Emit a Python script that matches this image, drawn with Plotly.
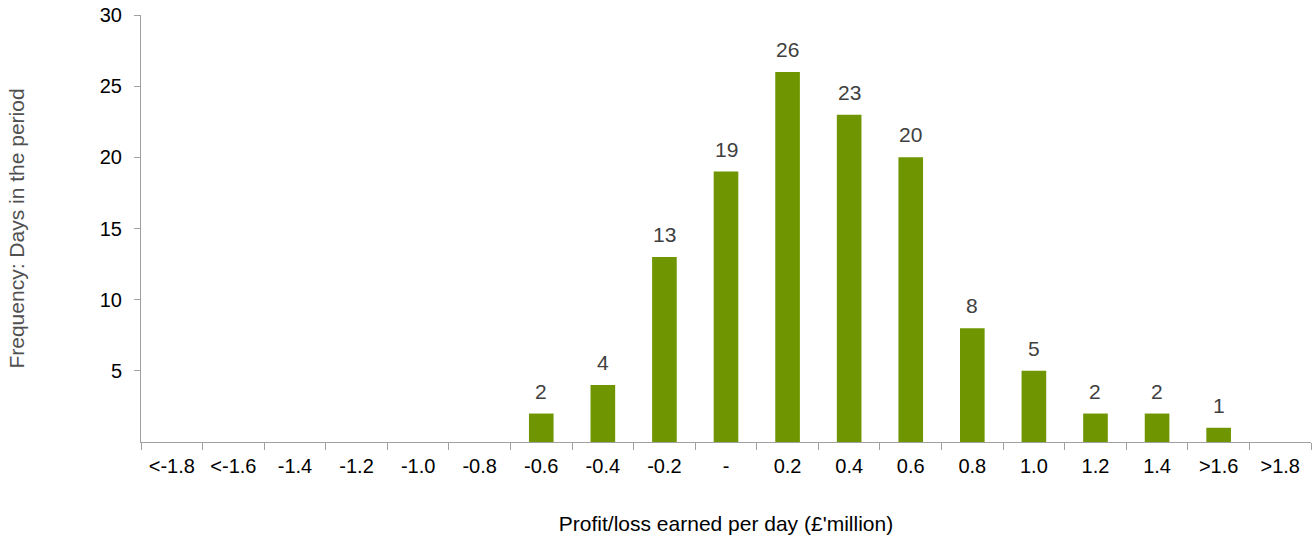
import plotly.graph_objects as go

categories = ["<-1.8", "<-1.6", "-1.4", "-1.2", "-1.0", "-0.8", "-0.6", "-0.4", "-0.2", "-",
              "0.2", "0.4", "0.6", "0.8", "1.0", "1.2", "1.4", ">1.6", ">1.8"]
days = [0, 0, 0, 0, 0, 0, 2, 4, 13, 19, 26, 23, 20, 8, 5, 2, 2, 1, 0]
y_ticks = [5, 10, 15, 20, 25, 30]

fig = go.Figure(go.Bar(
    x=categories, y=days,
    marker=dict(color="#6f9600", line=dict(width=0)),
))

for i, v in enumerate(days):
    if v:
        fig.add_annotation(x=i, y=v, text=str(v), showarrow=False, yanchor="bottom",
                           yshift=9, font=dict(size=21, color="#404040"))

font = "Liberation Sans, Arial, sans-serif"
fig.update_layout(
    width=1313, height=542,
    margin=dict(l=141, r=2, t=15, b=100),
    plot_bgcolor="white", paper_bgcolor="white",
    font=dict(family=font, size=20, color="black"),
    bargap=0.6, showlegend=False,
)
fig.update_xaxes(
    type="category", range=[-0.5, len(categories) - 0.5],
    tickson="boundaries", ticks="outside", ticklen=7, tickcolor="#a0a0a0",
    showline=True, linecolor="#a0a0a0", linewidth=1, showgrid=False, automargin=False,
    ticklabelstandoff=6,
    tickfont=dict(size=20, color="black"),
    title=dict(text="Profit/loss earned per day (£'million)", standoff=40,
               font=dict(size=21, color="black")),
)
fig.update_yaxes(
    range=[0, 30], tickvals=y_ticks, ticks="outside", ticklen=6, tickcolor="#a0a0a0",
    showline=True, linecolor="#a0a0a0", linewidth=1, showgrid=False, zeroline=False,
    automargin=False, ticklabelstandoff=8,
    tickfont=dict(size=20, color="black"),
    title=dict(text="Frequency: Days in the period", standoff=69,
               font=dict(size=21, color="#505050")),
)
fig.write_html("out.html", config={"displayModeBar": False},
               post_script="document.body.style.margin='0';")
